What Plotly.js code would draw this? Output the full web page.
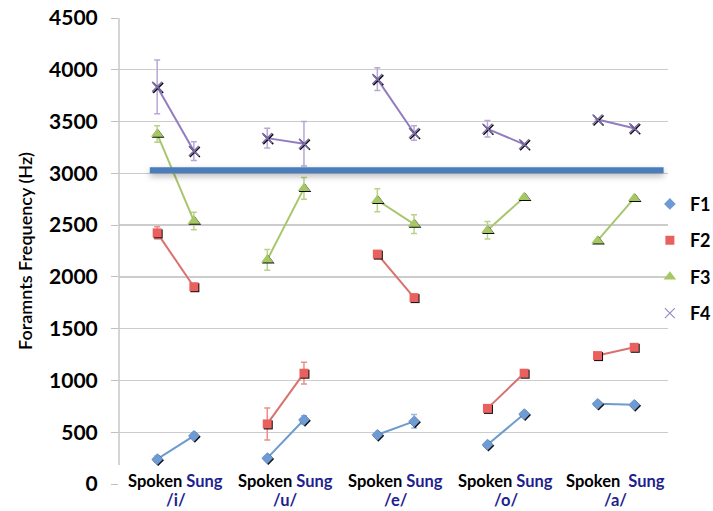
<!DOCTYPE html>
<html>
<head>
<meta charset="utf-8">
<script src="https://cdn.plot.ly/plotly-3.0.1.min.js"></script>
<style>
html,body{margin:0;padding:0;background:#fff;}
#chart{width:713px;height:511px;}
.scatterlayer .trace .points path{filter:drop-shadow(1.5px 1.5px 0px rgba(0,0,0,0.95));}
</style>
</head>
<body>
<div id="chart"></div>
<script>
// ---- data ----
const vowels = ['/i/', '/u/', '/e/', '/o/', '/a/'];
const conditions = ['Spoken', 'Sung'];
const seriesNames = ['F1', 'F2', 'F3', 'F4'];

const F1_spoken = [240, 250, 475, 380, 775];
const F1_sung   = [465, 620, 605, 675, 765];
const F2_spoken = [2425, 580, 2220, 730, 1240];
const F2_sung   = [1905, 1070, 1800, 1070, 1320];
const F3_spoken = [3380, 2165, 2740, 2450, 2350];
const F3_sung   = [2540, 2855, 2510, 2770, 2760];
const F4_spoken = [3835, 3340, 3910, 3430, 3520];
const F4_sung   = [3215, 3285, 3390, 3280, 3435];

const F1_spoken_err = [30, 0, 0, 0, 0];
const F1_sung_err   = [0, 40, 65, 0, 0];
const F2_spoken_err = [60, 155, 0, 0, 0];
const F2_sung_err   = [0, 105, 0, 0, 0];
const F3_spoken_err = [80, 100, 110, 85, 0];
const F3_sung_err   = [85, 105, 90, 0, 0];
const F4_spoken_err = [260, 95, 110, 80, 0];
const F4_sung_err   = [90, 215, 70, 0, 0];

const thresholdHz = 3030;
const yTicks = [0, 500, 1000, 1500, 2000, 2500, 3000, 3500, 4000, 4500];

// ---- styles ----
const styles = {
  F1: {color: '#6e9bd3', line: '#6c9bcf', err: '#9ab8dc', symbol: 'diamond', size: 9},
  F2: {color: '#e8615f', line: '#d9716f', err: '#f08d8b', symbol: 'square', size: 9},
  F3: {color: '#a6c864', line: '#a8c66e', err: '#b9d28a', symbol: 'triangle-up', size: 11},
  F4: {color: '#7d6aa8', line: '#927cbf', err: '#b7a8d3', symbol: 'x-thin', size: 10}
};

const data = {
  F1: [F1_spoken, F1_sung, F1_spoken_err, F1_sung_err],
  F2: [F2_spoken, F2_sung, F2_spoken_err, F2_sung_err],
  F3: [F3_spoken, F3_sung, F3_spoken_err, F3_sung_err],
  F4: [F4_spoken, F4_sung, F4_spoken_err, F4_sung_err]
};

function markerOf(name){
  const s = styles[name];
  return {symbol: s.symbol, size: s.size, color: s.color,
          line: {color: s.color, width: name === 'F4' ? 1.5 : 0}};
}

const traces = seriesNames.map(function(name){
  const d = data[name], s = styles[name];
  const x = [], y = [], e = [];
  vowels.forEach(function(v, i){
    x.push(3*i, 3*i+1, 3*i+2);
    y.push(d[0][i], d[1][i], null);
    e.push(d[2][i], d[3][i], 0);
  });
  return {
    type: 'scatter', mode: 'lines+markers', name: name, legendgroup: name, showlegend: false,
    x: x, y: y, connectgaps: false,
    line: {color: s.line, width: 2},
    marker: markerOf(name),
    error_y: {type: 'data', array: e, visible: true, color: s.err, thickness: 1.5, width: 3},
    cliponaxis: false
  };
});

// legend entries: markers only (as in the reference legend)
seriesNames.forEach(function(name){
  const m = markerOf(name);
  if (name === 'F4') { m.color = '#9a8cc4'; m.line = {color: '#9a8cc4', width: 1.2}; }
  traces.push({type: 'scatter', mode: 'markers', name: name, legendgroup: name,
               x: [null], y: [null], marker: m, showlegend: true, hoverinfo: 'skip'});
});

const labelFont = {family: 'Lato, "Open Sans", sans-serif', size: 16.5, color: '#000'};
const navy = '#1f1f8f';
const annotations = [];
vowels.forEach(function(v, i){
  const gap = (i === 4) ? '&nbsp;&nbsp;' : ' ';
  annotations.push({
    xref: 'x', yref: 'paper', x: 3*i + 0.5, y: 0.029, yanchor: 'top', xanchor: 'center',
    showarrow: false, borderpad: 0,
    text: '<b>' + conditions[0] + gap + '<span style="color:' + navy + '">' + conditions[1] + '</span></b>',
    font: labelFont
  });
  annotations.push({
    xref: 'x', yref: 'paper', x: 3*i + 0.5, y: -0.0575, yanchor: 'bottom', xanchor: 'center',
    showarrow: false, borderpad: 0,
    text: '<b>' + v + '</b>',
    font: {family: labelFont.family, size: 16.5, color: navy}
  });
});

const layout = {
  width: 713, height: 511,
  margin: {l: 119, r: 45, t: 18, b: 27, autoexpand: false},
  paper_bgcolor: '#ffffff', plot_bgcolor: '#ffffff',
  showlegend: true,
  legend: {
    x: 0.967, xanchor: 'left', y: 0.64, yanchor: 'top',
    font: {family: 'Lato, sans-serif', size: 18, color: '#000', weight: 'bold'},
    traceorder: 'grouped', tracegroupgap: 10, itemwidth: 30,
    bgcolor: 'rgba(0,0,0,0)', borderwidth: 0
  },
  xaxis: {
    range: [-1.04, 13.92], showgrid: false, zeroline: false, showline: false,
    showticklabels: false, ticks: '', fixedrange: true
  },
  yaxis: {
    range: [0, 4500], tickvals: yTicks, ticktext: yTicks.map(String),
    showgrid: true, gridcolor: '#cccccc', gridwidth: 1.3,
    zeroline: false, showline: false,
    ticks: 'outside', ticklen: 7, tickcolor: '#c0c0c0', tickwidth: 1,
    tickfont: {family: 'Lato, sans-serif', size: 21, color: '#000', weight: 'bold'},
    ticklabelstandoff: 9,
    title: {text: 'Foramnts Frequency (Hz)', standoff: 11,
            font: {family: 'Lato, sans-serif', size: 18, color: '#000', weight: 600}},
    fixedrange: true
  },
  shapes: [
    {type: 'rect', xref: 'paper', yref: 'y', x0: 0.001, x1: 1.0, y0: 0, y1: 184,
     fillcolor: '#ffffff', line: {width: 0}, layer: 'between'},
    {type: 'line', xref: 'paper', yref: 'y', x0: 0, x1: 0, y0: 184, y1: 4500,
     line: {color: '#bfbfbf', width: 1.3}, layer: 'above'},
    {type: 'line', xref: 'x', yref: 'y', x0: -0.2, x1: 13.8, y0: thresholdHz, y1: thresholdHz,
     line: {color: '#4a7dbb', width: 6}, layer: 'above'}
  ],
  annotations: annotations
};

Plotly.newPlot('chart', traces, layout, {displayModeBar: false, staticPlot: true}).then(function(){
  document.querySelectorAll('.layer-above .shapelayer path').forEach(function(p){
    if ((p.getAttribute('style') || '').indexOf('stroke-width: 6') >= 0) {
      p.style.filter = 'drop-shadow(0px 3px 3px rgba(0,0,0,0.3))';
    }
  });
});
</script>
</body>
</html>
